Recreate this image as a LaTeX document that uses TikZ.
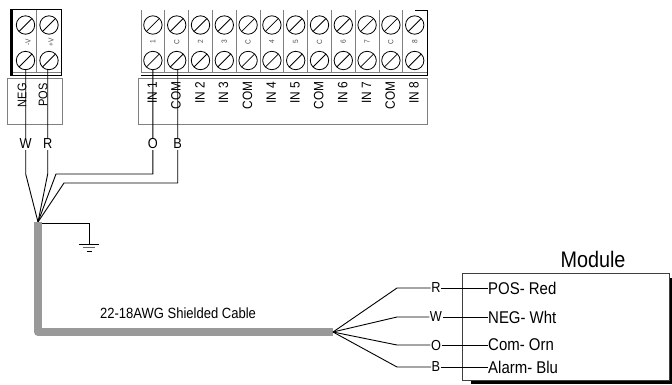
\documentclass[tikz,border=0pt]{standalone}
\usepackage{fontspec}
\setmainfont[FakeStretch=0.88]{Liberation Sans}
\tikzset{
  wire/.style={line width=0.9pt},
  tag/.style={fill=white,inner sep=1pt,font=\fontsize{14.5}{14.5}\selectfont},
  term/.style={rotate=90,anchor=east,inner sep=0pt,font=\fontsize{13.5}{13.5}\selectfont},
  pinno/.style={rotate=90,text=black!70,inner sep=0pt,font=\fontsize{7.5}{7.5}\selectfont},
  modtext/.style={anchor=west,inner sep=0pt,font=\fontsize{17}{17}\selectfont},
}
\newcommand{\screw}[2]{%
  \draw[line width=0.8pt] (#1,#2) circle [radius=9.2];
  \draw[line width=0.8pt] (#1-6.5,#2+6.5) -- (#1+6.5,#2-6.5);
}
\begin{document}
\begin{tikzpicture}[x=1pt,y=-1pt]
  \useasboundingbox (0,0) rectangle (672,384);
  % power block
  \draw[line width=0.9pt] (10,9.5) -- (61,9.5) -- (61,75) -- (10,75) -- cycle;
  \fill (10,9.5) rectangle (13,75);
  \draw[gray,line width=0.9pt] (13,72.5) -- (61,72.5);
  \draw[gray,line width=1pt] (36.5,10) -- (36.5,72);
  \foreach \xa in {25.5,49} {
    \screw{\xa}{25}
    \screw{\xa}{60.5}
  }
  \node[pinno] (pinneg) at (28,42) {-V};
  \node[pinno] (pinpos) at (51,42) {+V};
  \draw[gray,line width=0.8pt] (7,78) rectangle (62,124);
  \node[term,font=\fontsize{12.5}{12.5}\selectfont] (tneg) at (22,83) {NEG};
  \node[term,font=\fontsize{12.5}{12.5}\selectfont] (tpos) at (43,83) {POS};

  % input block
  \draw[gray,line width=0.9pt] (141,72.5) -- (427,72.5);
  \draw[line width=0.9pt] (141,75) -- (427,75) -- (427,10) -- (415,10);
  \foreach \n/\p/\t [count=\i from 0] in {0/1/IN 1,1/C/COM,2/2/IN 2,3/3/IN 3,4/C/COM,5/4/IN 4,6/5/IN 5,7/C/COM,8/6/IN 6,9/7/IN 7,10/C/COM,11/8/IN 8} {
    \pgfmathsetmacro{\xd}{141+23.8*\i}
    \pgfmathsetmacro{\xs}{\xd+11.9}
    \pgfmathsetmacro{\xt}{\xs-0.7}
    \draw[gray,line width=1pt] (\xd,10) -- (\xd,72);
    \screw{\xs}{25}
    \screw{\xs}{60.5}
    \node[pinno] (pin\n) at (\xs,42) {\p};
    \node[term] (term\n) at (\xt,81.5) {\t};
  }
  \draw[gray,line width=0.8pt] (138,78) rectangle (427,124);

  % wires to the cable
  \coordinate (joint) at (38,222);
  \coordinate (sneg) at (25.7,70);
  \coordinate (spos) at (47.7,70);
  \coordinate (sin) at (152.8,70);
  \coordinate (scom) at (177.7,70);
  \draw[wire] (sneg) -- (25.7,174) -- (joint);
  \draw[wire] (spos) -- (47.7,174) -- (joint);
  \draw[wire] (sin) -- (152.8,174) -- (56,174) -- (joint);
  \draw[wire] (scom) -- (177.7,183) -- (64,183) -- (joint);
  \node[tag] (tagw) at (25.7,144) {W};
  \node[tag] (tagr) at (47.7,144) {R};
  \node[tag] (tago) at (152.8,144) {O};
  \node[tag] (tagb) at (177.7,144) {B};

  % shield and ground
  \coordinate (gnd) at (89.3,244);
  \draw[wire] (joint) ++(2,1) -- (89.3,223) -- (gnd);
  \draw[line width=0.9pt] (79,244) -- (99,244);
  \draw[line width=1.2pt,black!60] (83,247.5) -- (95,247.5);
  \draw[line width=0.9pt] (87,251) -- (92,251);

  % cable
  \draw[line width=8pt,color=black!40,line join=round] (38,221.5) -- (38,332) -- (333,332);
  \node[inner sep=0pt,font=\fontsize{14.8}{14.8}\selectfont] (cablename) at (178,313) {22-18AWG Shielded Cable};

  % module
  \coordinate (fan) at (333,332);
  \node[inner sep=0pt,font=\fontsize{22.5}{22.5}\selectfont] (modname) at (593,259) {Module};
  \fill (471,380) rectangle (672,384);
  \fill (668,278) rectangle (672,384);
  \draw[line width=0.8pt,draw=black!75,fill=white] (462,273) rectangle (669,380.5);
  \foreach \y/\w/\t in {288/R/POS- Red,317/W/NEG- Wht,345/O/Com- Orn,367/B/Alarm- Blu} {
    \node[modtext] (mod\w) at (488,\y) {\t};
    \node[tag,inner sep=0.5pt] (tag\w) at (436,\y) {\w};
    \draw[wire] (fan) -- (397,\y) -- (tag\w);
    \draw[wire] (tag\w) -- (mod\w);
  }
\end{tikzpicture}
\end{document}
